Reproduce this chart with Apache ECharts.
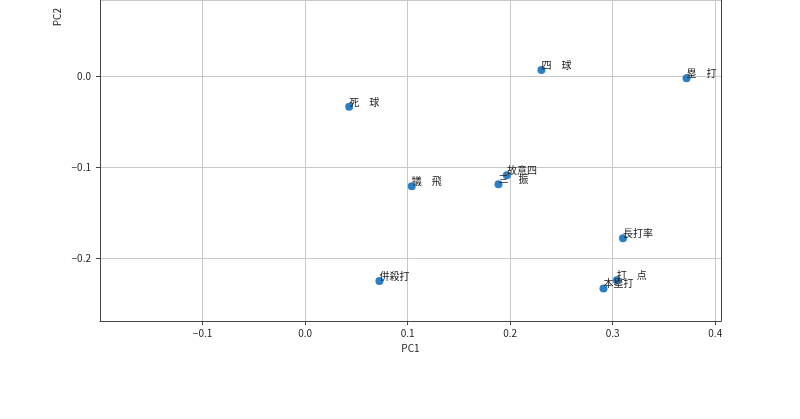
<!DOCTYPE html>
<html>
<head>
<meta charset="utf-8">
<script src="https://cdn.jsdelivr.net/npm/echarts@6/dist/echarts.min.js"></script>
<style>
  html, body { margin: 0; padding: 0; background: #fff; }
  #pca { width: 800px; height: 419px; }
</style>
</head>
<body>
<div id="pca"></div>
<script>
// PCA loadings
const names = ['死　球', '四　球', '塁　打', '犠　飛', '三　振', '故意四', '長打率', '併殺打', '打　点', '本塁打']
const pc1 = [0.043, 0.2305, 0.372, 0.104, 0.1886, 0.1968, 0.310, 0.0725, 0.304, 0.291]
const pc2 = [-0.0337, 0.0066, -0.0025, -0.1206, -0.1184, -0.1086, -0.1776, -0.2245, -0.2237, -0.2328]

const font = '"Noto Sans CJK JP", "Noto Sans", sans-serif'

const chart = echarts.init(document.getElementById('pca'))

const points = names.map((n, i) => ({ name: n, value: [pc1[i], pc2[i]] }))

const tickFmt = v => v < 0 ? '\u2212' + Math.abs(v).toFixed(1) : v.toFixed(1)

const option = {
  animation: false,
  backgroundColor: '#fff',
  grid: { left: 100, right: 79, top: 0, bottom: 98 },
  xAxis: {
    type: 'value',
    min: -0.2,
    max: 0.4056,
    interval: 0.1,
    name: 'PC1',
    nameLocation: 'middle',
    nameGap: 21,
    nameTextStyle: { fontFamily: font, fontSize: 10, color: '#222' },
    axisLine: { show: true, onZero: false, lineStyle: { color: '#444', width: 1 } },
    axisTick: { show: true, length: 4, lineStyle: { color: '#444' } },
    axisLabel: {
      showMinLabel: false, showMaxLabel: false, margin: 7,
      fontFamily: font, fontSize: 10, color: '#222',
      formatter: tickFmt
    },
    splitLine: { show: true, lineStyle: { color: '#c8c8c8', width: 1 } }
  },
  yAxis: [{
    type: 'value',
    min: -0.2683,
    max: 0.0833,
    splitNumber: 4,
    axisLine: { show: true, onZero: false, lineStyle: { color: '#444', width: 1 } },
    axisTick: { show: true, length: 4, lineStyle: { color: '#444' } },
    axisLabel: {
      showMinLabel: false, showMaxLabel: false, margin: 9,
      fontFamily: font, fontSize: 10, color: '#222',
      formatter: tickFmt
    },
    splitLine: { show: true, lineStyle: { color: '#c8c8c8', width: 1 } }
  }, {
    // right spine only
    type: 'value',
    position: 'right',
    axisLine: { show: true, onZero: false, lineStyle: { color: '#444', width: 1 } },
    axisTick: { show: false },
    axisLabel: { show: false },
    splitLine: { show: false }
  }],
  graphic: [{
    type: 'text',
    left: 52,
    top: 8,
    rotation: Math.PI / 2,
    style: { text: 'PC2', fontFamily: font, fontSize: 10, fill: '#222' }
  }],
  series: [{
    type: 'scatter',
    yAxisIndex: 0,
    data: points,
    symbolSize: 8,
    itemStyle: { color: '#2b7fc4', opacity: 1 },
    label: {
      show: true,
      formatter: p => p.name,
      position: [4, 4],
      align: 'left',
      verticalAlign: 'bottom',
      fontFamily: font,
      fontSize: 10,
      color: '#222'
    },
    labelLayout: { hideOverlap: false }
  }]
}

chart.setOption(option)
</script>
</body>
</html>
